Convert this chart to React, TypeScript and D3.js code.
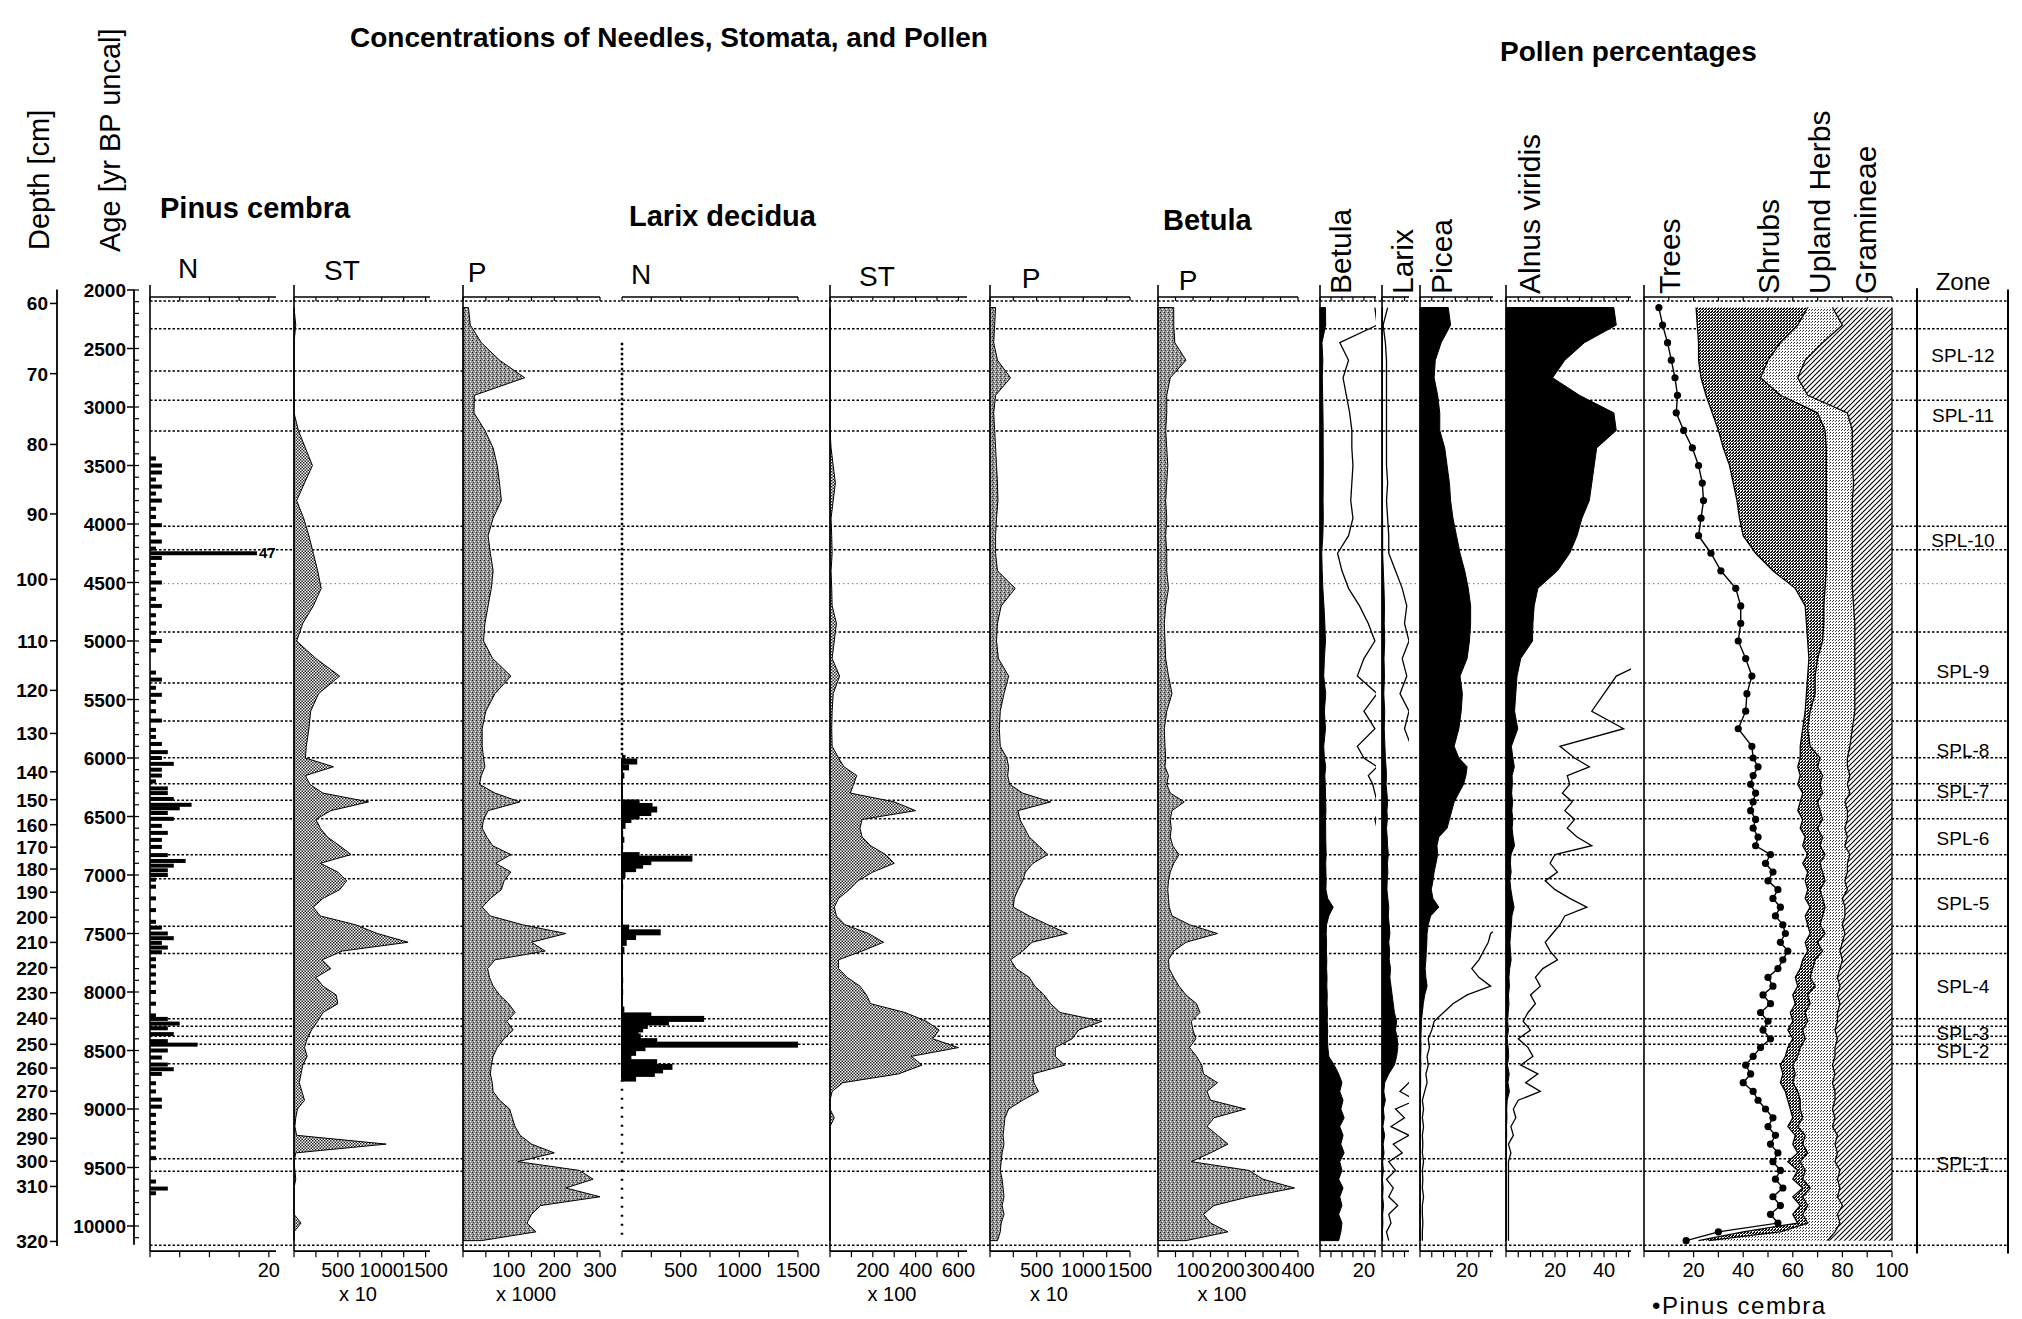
import * as d3 from 'd3'

// ages (yr BP uncal) of the samples shared by all curves
const sampleAges = [2150, 2300, 2450, 2600, 2750, 2900, 3050, 3200, 3350, 3500, 3650, 3800, 3950, 4100, 4250, 4400, 4550, 4700, 4850, 5000, 5150, 5300, 5450, 5600, 5750, 5900,
  6000, 6075, 6150, 6225, 6300, 6375, 6450, 6525, 6600, 6675, 6750, 6825, 6900, 6975, 7050, 7125, 7200, 7275, 7350, 7425, 7500, 7575, 7650, 7725, 7800, 7875, 7950, 8025, 8100, 8175, 8250, 8325, 8400, 8475, 8550, 8625, 8700, 8775, 8850, 8925, 9000, 9075, 9150, 9225, 9300, 9375, 9450, 9525, 9600, 9675, 9750, 9825, 9900, 9975, 10050, 10125]

// concentrations
const pinusStomata = [0, 20, 0, 0, 0, 0, 0, 50, 130, 210, 120, 30, 110, 170, 220, 270, 310, 220, 100, 30, 250, 520, 280, 190, 170, 140,
  130, 450, 130, 180, 330, 850, 420, 250, 300, 380, 520, 650, 300, 500, 600, 520, 330, 220, 300, 700, 950, 1300, 550, 320, 420, 250, 330, 480, 500, 330, 270, 200, 150, 120, 150, 100, 80, 60, 90, 120, 40, 20, 10, 30, 1050, 20, 0, 10, 20, 0, 0, 0, 0, 80, 0, 0]
const pinusPollen = [12, 16, 40, 80, 135, 25, 24, 48, 66, 75, 80, 84, 66, 55, 60, 66, 62, 55, 48, 45, 65, 105, 70, 50, 42, 42,
  45, 48, 40, 36, 70, 125, 55, 45, 42, 52, 65, 105, 72, 105, 90, 84, 60, 42, 60, 130, 225, 150, 180, 70, 54, 58, 66, 80, 100, 114, 96, 110, 90, 75, 66, 62, 60, 64, 66, 80, 102, 108, 114, 125, 150, 200, 120, 255, 285, 225, 300, 170, 150, 140, 160, 40]
const larixStomata = [0, 0, 0, 0, 0, 0, 0, 0, 5, 15, 25, 15, 5, 8, 10, 5, 8, 10, 30, 20, 10, 45, 15, 10, 8, 10,
  40, 65, 125, 110, 95, 300, 400, 150, 140, 150, 190, 260, 300, 200, 130, 90, 40, 20, 30, 70, 180, 250, 150, 40, 40, 80, 140, 170, 190, 350, 450, 510, 480, 600, 380, 430, 320, 60, 10, 0, 0, 20, 0, 0, 0, 0, 0, 0, 0, 0, 0, 0, 0, 0, 0, 0]
const larixPollen = [60, 50, 40, 80, 220, 60, 40, 50, 60, 70, 80, 85, 70, 60, 60, 80, 270, 120, 80, 70, 90, 200, 150, 110, 100, 110,
  180, 200, 190, 210, 350, 650, 300, 320, 370, 420, 520, 620, 460, 380, 350, 300, 260, 250, 420, 620, 830, 450, 350, 220, 280, 420, 480, 580, 650, 750, 1200, 950, 880, 700, 700, 800, 460, 470, 520, 350, 200, 160, 150, 140, 150, 130, 120, 110, 130, 140, 150, 130, 150, 120, 110, 80]
const betulaPollen = [45, 45, 48, 80, 35, 25, 25, 22, 25, 28, 25, 22, 25, 22, 25, 25, 30, 22, 18, 20, 22, 30, 40, 25, 18, 20,
  22, 20, 30, 25, 35, 75, 40, 35, 38, 35, 42, 60, 45, 35, 30, 28, 30, 32, 40, 90, 170, 80, 45, 30, 32, 45, 60, 80, 110, 120, 95, 100, 108, 90, 110, 125, 130, 170, 140, 150, 250, 160, 140, 170, 200, 150, 95, 260, 300, 390, 260, 160, 130, 150, 200, 80]

// pollen percentages
const betulaPct = [2.5, 2.6, 0.9, 1.3, 1.05, 1.2, 1.35, 1.45, 1.45, 1.5, 1.45, 1.4, 1.5, 1.3, 0.8, 1.0, 1.3, 1.8, 2.2, 2.5, 2.0, 1.7, 2.6, 2.0, 2.5, 1.7,
  2.0, 2.6, 2.2, 2.4, 2.5, 2.6, 2.7, 2.5, 2.6, 2.6, 2.7, 2.8, 2.6, 2.7, 2.8, 2.7, 3.5, 6.0, 4.0, 3.0, 2.8, 3.0, 2.9, 3.1, 3.0, 3.2, 3.1, 3.3, 3.2, 3.4, 3.3, 3.5, 3.4, 3.6, 4.0, 6.5, 8.5, 10, 9, 10.5, 9.5, 11, 9, 10.5, 9.5, 11, 9, 10, 8.5, 10.5, 9, 10, 8.5, 10, 9.5, 8.5]
const larixPct = [0.25, 0.05, 0.15, 0.2, 0.2, 0.2, 0.2, 0.2, 0.2, 0.2, 0.25, 0.2, 0.25, 0.3, 0.3, 0.6, 0.9, 1.1, 1.0, 1.2, 0.9, 1.1, 0.8, 1.2, 1.0, 1.3,
  1.5, 1.8, 2.0, 1.8, 2.2, 2.5, 2.2, 2.4, 2.0, 2.3, 2.5, 2.8, 2.4, 2.6, 2.3, 2.2, 2.6, 3.0, 2.8, 3.2, 3.5, 3.0, 3.4, 3.2, 3.8, 3.5, 4.0, 4.5, 5.0, 5.5, 6.5, 6.0, 6.8, 7.0, 6.5, 5.5, 3.0, 1.2, 0.8, 1.5, 0.6, 1.0, 0.4, 1.2, 0.5, 0.9, 0.3, 0.6, 0.2, 0.5, 0.3, 0.7, 0.3, 0.4, 0.2, 0.3]
const piceaPct = [12, 13, 9, 6.5, 6, 7.5, 8.4, 8.4, 10.5, 11.5, 12.5, 13, 14, 15.5, 17, 19, 20.5, 21.5, 21.5, 21, 20, 17, 18, 17.5, 16.5, 14.5,
  16.5, 20, 19.5, 18.5, 16.5, 14.5, 13.5, 12.5, 11.5, 8, 7.2, 7.5, 6.8, 6, 5.5, 4.8, 5.5, 8, 4.5, 3.5, 3.0, 2.9, 2.7, 2.5, 2.2, 2.5, 3.0, 2.0, 1.4, 1.0, 0.6, 0.5, 0.35, 0.4, 0.3, 0.35, 0.25, 0.3, 0.2, 0.1, 0.15, 0.1, 0.15, 0.1, 0.12, 0.1, 0.15, 0.1, 0.12, 0.1, 0.15, 0.1, 0.1, 0.12, 0.1, 0.1]
const alnusPct = [44, 45, 32, 24, 19, 30, 44, 45, 37, 36, 35, 34, 31, 29, 26, 21, 13, 11.5, 11, 10.8, 6, 4.5, 4.0, 3.5, 4.8, 2.2,
  2.8, 3.4, 2.5, 2.6, 2.3, 2.7, 2.4, 2.8, 2.5, 2.9, 3.5, 2.0, 1.8, 2.1, 1.6, 2.0, 2.6, 3.3, 2.4, 2.2, 1.9, 1.6, 1.8, 2.1, 1.5, 1.2, 1.4, 1.0, 1.2, 0.9, 0.7, 1.0, 0.5, 0.9, 1.1, 0.6, 1.3, 0.8, 1.4, 0.5, 0.3, 0.4, 0.2, 0.3, 0.1, 0.2, 0.1, 0.1, 0.1, 0.1, 0.1, 0.1, 0.1, 0.1, 0.1, 0.1]

// summary diagram (gramineae fills the rest up to 100 %)
const pinusCembraPct = [6, 7.5, 9.5, 11, 12.5, 13.5, 13, 16, 19.5, 22, 23.5, 24, 23, 22, 27, 31, 37, 39, 39, 38, 41, 43.5, 41.5, 41, 38, 43.5,
  44, 46, 44, 43, 45, 44, 43, 45, 44, 46, 45, 51, 49, 52, 50, 54, 52, 55, 53, 56, 57, 55, 58, 56, 54, 50, 52, 48, 51, 47, 50, 48, 51, 47, 44, 41, 43, 40, 44, 46, 49, 52, 50, 53, 51, 54, 52, 55, 53, 56, 52, 55, 51, 54, 30, 17]
const treesPct = [21, 21.5, 22, 22, 23, 25, 27.5, 30, 32, 34.5, 36, 37.5, 38.5, 40, 45, 52, 61, 65, 65.5, 66, 66.5, 66, 65.5, 65, 64, 63,
  63, 62, 63, 62, 64, 63, 62, 64, 63, 65, 64, 66, 64, 66, 65, 66, 65, 67, 65, 66, 67, 65, 66, 64, 63, 61, 62, 60, 61, 59, 60, 58, 60, 58, 57, 55, 56, 55, 57, 58, 59, 60, 58, 61, 60, 62, 58, 62, 60, 64, 60, 63, 60, 62, 40, 22]
const shrubsPct = [45, 40.5, 33, 28, 24, 30, 42.5, 43, 41.5, 39, 37.5, 36, 35, 33.5, 28.5, 21.5, 12, 7.5, 7, 6, 3.5, 3, 3.5, 2, 2, 4,
  8, 8, 9, 9, 8, 7, 9, 8, 7, 7, 7, 7, 7, 6, 8, 5, 7, 6, 7, 5, 6, 5, 6, 5, 5, 6, 7, 6, 6, 6, 6, 6, 5, 5, 5, 5, 5, 5, 5, 5, 4, 4, 4, 4, 4, 4, 5, 3, 4, 3, 4, 3, 4, 4, 15, 4]
const herbsPct = [10, 18, 17, 15, 15, 11, 12, 11, 10.5, 10.5, 11, 10.5, 10.5, 10.5, 10.5, 10.5, 11, 12, 12.5, 13, 15, 16, 16, 18, 18, 16,
  11, 12, 11, 11, 11, 11, 11, 10, 11, 10, 10, 10, 11, 10, 8, 11, 8, 8, 9, 9, 8, 10, 7, 11, 11, 11, 10, 12, 12, 13, 12, 13, 13, 14, 15, 16, 16, 16, 15, 14, 13, 13, 14, 13, 13, 12, 14, 14, 14, 12, 14, 14, 14, 13, 22, 48]

// needle counts
const pinusNeedleAges = [3440, 3500, 3560, 3620, 3680, 3740, 3800, 3870, 3940, 4010, 4080, 4150, 4210, 4250, 4290, 4350, 4420, 4500, 4560, 4640,
  4700, 4780, 4850, 4930, 5000, 5080, 5270, 5330, 5400, 5460, 5520, 5600, 5680, 5760, 5820, 5880, 5950, 6000, 6050, 6100,
  6150, 6200, 6260, 6300, 6350, 6400, 6430, 6470, 6520, 6580, 6640, 6700, 6760, 6830, 6880, 6920, 6960, 7000, 7040, 7100,
  7200, 7300, 7400, 7450, 7500, 7540, 7580, 7620, 7660, 7720, 7780, 7850, 7920, 8000, 8100, 8200, 8230, 8270, 8310, 8360,
  8420, 8450, 8500, 8560, 8620, 8660, 8700, 8780, 8850, 8920, 8980, 9050, 9120, 9200, 9260, 9330, 9420, 9620, 9680, 9720]
const pinusNeedles = [1, 2, 2, 1, 2, 1, 2, 1, 1, 2, 1, 2, 1, 47, 2, 1, 1, 2, 1, 1,
  2, 1, 1, 1, 2, 1, 1, 2, 1, 2, 1, 1, 2, 1, 1, 2, 3, 2, 4, 2,
  2, 1, 3, 3, 4, 7, 5, 3, 4, 2, 3, 2, 2, 3, 6, 4, 3, 3, 1, 1,
  1, 1, 1, 2, 3, 4, 2, 3, 2, 1, 1, 1, 1, 1, 1, 1, 3, 5, 3, 4,
  3, 8, 3, 2, 3, 4, 2, 1, 1, 2, 2, 1, 1, 1, 1, 1, 1, 1, 3, 1]
const larixNeedleAges = [6000, 6030, 6080, 6150, 6380, 6410, 6440, 6470, 6500, 6530, 6580, 6650, 6700, 6760, 6830, 6860, 6890, 6920, 6950, 7000,
  7100, 7450, 7490, 7530, 7580, 7640, 7900, 8000, 8150, 8200, 8230, 8260, 8290, 8320, 8350, 8380, 8420, 8450, 8480, 8520,
  8560, 8600, 8640, 8670, 8700, 8740]
const larixNeedles = [30, 130, 60, 20, 150, 260, 300, 250, 150, 80, 30, 10, 20, 10, 150, 600, 250, 180, 120, 30,
  10, 60, 330, 120, 40, 20, 10, 10, 20, 250, 700, 400, 220, 180, 140, 160, 300, 1500, 200, 120,
  80, 300, 430, 350, 280, 120]

// zones
const zoneLineAges = [2094, 2331, 2692, 2943, 3205, 4020, 4220, 4510, 4923, 5359, 5684, 5997, 6220, 6362, 6519, 6826, 7032, 7438, 7672, 8228, 8293, 8379, 8447, 8613, 9425, 9532, 10165]
const faintZoneLine = 4510
const zoneNames = ['SPL-12', 'SPL-11', 'SPL-10', 'SPL-9', 'SPL-8', 'SPL-7', 'SPL-6', 'SPL-5', 'SPL-4', 'SPL-3', 'SPL-2', 'SPL-1']
const zoneLabelAges = [2556, 3068, 4137, 5256, 5932, 6282, 6684, 7239, 7949, 8350, 8504, 9462]

// left axes
const depthLabels = [60, 70, 80, 90, 100, 110, 120, 130, 140, 150, 160, 170, 180, 190, 200, 210, 220, 230, 240, 250, 260, 270, 280, 290, 300, 310, 320]
const depthAges = [2115, 2715, 3320, 3914, 4473, 4998, 5422, 5790, 6118, 6356, 6570, 6762, 6949, 7147, 7362, 7576, 7791, 8006, 8226, 8447, 8650, 8848, 9040, 9250, 9447, 9662, 10132]
const ageLabels = [2000, 2500, 3000, 3500, 4000, 4500, 5000, 5500, 6000, 6500, 7000, 7500, 8000, 8500, 9000, 9500, 10000]

const FONT = "'Liberation Sans', Arial, Helvetica, sans-serif"
const W = 2022
const H = 1319

const y = d3.scaleLinear().domain([2000, 10000]).range([290, 1226])
const yTop = y(2060)
const yBot = y(10215)

type Panel = { id: string; x0: number; w: number; max: number; step: number; labels: number[]; mult?: string; multX?: number }

const panels: Record<string, Panel> = {
  pinN: { id: 'pinN', x0: 150, w: 126, max: 21.2, step: 5, labels: [20] },
  pinST: { id: 'pinST', x0: 294, w: 136, max: 1550, step: 250, labels: [500, 1000, 1500], mult: 'x 10', multX: 358 },
  pinP: { id: 'pinP', x0: 463, w: 137, max: 300, step: 50, labels: [100, 200, 300], mult: 'x 1000', multX: 526 },
  larN: { id: 'larN', x0: 622, w: 176, max: 1500, step: 250, labels: [500, 1000, 1500] },
  larST: { id: 'larST', x0: 830, w: 137, max: 640, step: 100, labels: [200, 400, 600], mult: 'x 100', multX: 892 },
  larP: { id: 'larP', x0: 990, w: 140, max: 1500, step: 250, labels: [500, 1000, 1500], mult: 'x 10', multX: 1049 },
  betP: { id: 'betP', x0: 1158, w: 140, max: 400, step: 50, labels: [100, 200, 300, 400], mult: 'x 100', multX: 1222 },
  betPct: { id: 'betPct', x0: 1320, w: 56, max: 25.5, step: 5, labels: [20] },
  larPct: { id: 'larPct', x0: 1382, w: 27, max: 12, step: 5, labels: [] },
  picPct: { id: 'picPct', x0: 1420, w: 73, max: 31, step: 5, labels: [20] },
  alnPct: { id: 'alnPct', x0: 1506, w: 125, max: 51, step: 5, labels: [20, 40] },
  sum: { id: 'sum', x0: 1644, w: 248, max: 100, step: 10, labels: [20, 40, 60, 80, 100] },
}

const xScale = (p: Panel) => d3.scaleLinear().domain([0, p.max]).range([p.x0, p.x0 + p.w])

const areaPath = (p: Panel, vals: number[]) => {
  const xs = xScale(p)
  return d3.area<number>().y((_, i) => y(sampleAges[i])).x0(p.x0).x1((v) => xs(Math.min(v, p.max)))(vals) || ''
}
const exagPath = (p: Panel, vals: number[]) => {
  const xs = xScale(p)
  return d3.line<number>().y((_, i) => y(sampleAges[i])).x((v) => xs(v * 10))(vals) || ''
}

const PanelAxis = ({ p, dottedAxis }: { p: Panel; dottedAxis?: boolean }) => {
  const xs = xScale(p)
  const ticks = d3.range(0, p.max + 1e-6, p.step)
  return (
    <g stroke="#000" fill="none">
      {!dottedAxis && <line x1={p.x0} x2={p.x0} y1={yTop - 12} y2={yBot} strokeWidth={1.6} />}
      <line x1={p.x0} x2={p.x0 + p.w} y1={yTop} y2={yTop} strokeWidth={1.6} />
      {ticks.map((t) => (
        <line key={'t' + t} x1={xs(t)} x2={xs(t)} y1={yTop} y2={yTop + 4} strokeWidth={1.2} />
      ))}
      <line x1={p.x0} x2={p.x0 + p.w} y1={yBot} y2={yBot} strokeWidth={1.6} />
      {ticks.map((t) => (
        <line key={'b' + t} x1={xs(t)} x2={xs(t)} y1={yBot} y2={yBot + 6} strokeWidth={1.2} />
      ))}
      {p.labels.map((l) => (
        <text key={'l' + l} x={xs(l)} y={yBot + 26} textAnchor="middle" fontSize={20} fill="#000" stroke="none" fontFamily={FONT}>
          {l}
        </text>
      ))}
      {p.mult && (
        <text x={p.multX} y={yBot + 50} textAnchor="middle" fontSize={20} fill="#000" stroke="none" fontFamily={FONT}>
          {p.mult}
        </text>
      )}
    </g>
  )
}

const App = () => {
  const sumX = xScale(panels.sum)
  const cumTrees = treesPct
  const cumShrubs = treesPct.map((t, i) => t + shrubsPct[i])
  const cumHerbs = cumShrubs.map((c, i) => c + herbsPct[i])
  const band = (lo: number[], hi: number[]) =>
    d3.area<number>().y((_, i) => y(sampleAges[i])).x0((_, i) => sumX(lo[i])).x1((_, i) => sumX(hi[i]))(sampleAges) || ''
  const edge = (vals: number[]) => d3.line<number>().y((_, i) => y(sampleAges[i])).x((v) => sumX(v))(vals) || ''
  const full = sampleAges.map(() => 100)

  const pinN = panels.pinN
  const pinNx = xScale(pinN)
  const larN = panels.larN
  const larNx = xScale(larN)

  const rotLabels: [string, number][] = [
    ['Betula', 1351], ['Larix', 1413], ['Picea', 1452], ['Alnus viridis', 1540],
    ['Trees', 1680], ['Shrubs', 1779], ['Upland Herbs', 1830], ['Gramineae', 1876],
  ]
  const colHeads: [string, number, number][] = [
    ['N', 188, 278], ['ST', 342, 280], ['P', 477, 282], ['N', 641, 284], ['ST', 877, 286], ['P', 1031, 288], ['P', 1188, 290],
  ]

  return (
    <svg width={W} height={H} style={{ position: 'absolute', left: 0, top: 0, background: '#fff' }} fontFamily={FONT}>
      <defs>
        <pattern id="stom" width="3" height="3" patternUnits="userSpaceOnUse">
          <rect width="3" height="3" fill="#fff" />
          <rect x="0" y="0" width="1.5" height="1.5" fill="#222" />
          <rect x="1.5" y="1.5" width="1.5" height="1.5" fill="#222" />
        </pattern>
        <pattern id="poll" width="4" height="4" patternUnits="userSpaceOnUse">
          <rect width="4" height="4" fill="#959595" />
          <rect x="0" y="0" width="1" height="1" fill="#222" />
          <rect x="2" y="1" width="1" height="1" fill="#f4f4f4" />
          <rect x="1" y="2" width="1" height="1" fill="#333" />
          <rect x="3" y="3" width="1" height="1" fill="#e8e8e8" />
        </pattern>
        <pattern id="shrub" width="3" height="3" patternUnits="userSpaceOnUse">
          <rect width="3" height="3" fill="#fff" />
          <rect x="0" y="0" width="2" height="1" fill="#111" />
          <rect x="1" y="2" width="2" height="1" fill="#111" />
          <rect x="2" y="1" width="1" height="1" fill="#111" />
        </pattern>
        <pattern id="herb" width="3" height="3" patternUnits="userSpaceOnUse">
          <rect width="3" height="3" fill="#fff" />
          <rect x="0" y="0" width="1" height="1" fill="#222" />
          <rect x="2" y="1" width="1" height="1" fill="#555" />
        </pattern>
        <pattern id="gram" width="5" height="5" patternUnits="userSpaceOnUse">
          <rect width="5" height="5" fill="#fff" />
          <path d="M0,5 L5,0 M-1,1 L1,-1 M4,6 L6,4" stroke="#000" strokeWidth="1.1" />
        </pattern>
        {Object.values(panels).map((p) => (
          <clipPath key={p.id} id={'clip-' + p.id}>
            <rect x={p.x0} y={0} width={p.w} height={H} />
          </clipPath>
        ))}
      </defs>
      <rect width={W} height={H} fill="#fff" />

      {/* titles */}
      <text x={350} y={47} fontSize={28} fontWeight="bold">Concentrations of Needles, Stomata, and Pollen</text>
      <text x={1500} y={61} fontSize={28} fontWeight="bold">Pollen percentages</text>
      <text x={160} y={218} fontSize={29} fontWeight="bold">Pinus cembra</text>
      <text x={629} y={226} fontSize={29} fontWeight="bold">Larix decidua</text>
      <text x={1163} y={230} fontSize={29} fontWeight="bold">Betula</text>
      <text transform="translate(49,250) rotate(-90)" fontSize={29}>Depth [cm]</text>
      <text transform="translate(120,252) rotate(-90)" fontSize={29}>Age [yr BP uncal]</text>
      {colHeads.map(([t, x, yy], i) => (
        <text key={i} x={x} y={yy} fontSize={28} textAnchor="middle">{t}</text>
      ))}
      {rotLabels.map(([t, x]) => (
        <text key={t} transform={`translate(${x},294) rotate(-90)`} fontSize={30}>{t}</text>
      ))}
      <text x={1963} y={290} fontSize={24} textAnchor="middle">Zone</text>

      {/* zone lines */}
      {zoneLineAges.map((a) => (
        <line key={a} x1={150} x2={2008} y1={y(a)} y2={y(a)}
          stroke={a === faintZoneLine ? '#777' : '#000'} strokeWidth={a === faintZoneLine ? 1 : 1.5}
          strokeDasharray={a === faintZoneLine ? '1.5,3' : '2.5,2'} />
      ))}

      {/* depth axis */}
      <g stroke="#000">
        <line x1={57} x2={57} y1={y(1995)} y2={y(10170)} strokeWidth={1.8} />
        {depthAges.map((a) => (
          <line key={a} x1={50} x2={57} y1={y(a)} y2={y(a)} strokeWidth={1.5} />
        ))}
      </g>
      {depthLabels.map((d, i) => (
        <text key={d} x={48} y={y(depthAges[i]) + 7} fontSize={19} fontWeight="bold" textAnchor="end">{d}</text>
      ))}

      {/* age axis */}
      <g stroke="#000">
        <line x1={134} x2={134} y1={y(1995)} y2={y(10160)} strokeWidth={1.8} />
        {d3.range(2000, 10101, 100).map((a) => (
          <line key={a} x1={134} x2={139} y1={y(a)} y2={y(a)} strokeWidth={1.2} />
        ))}
        {ageLabels.map((a) => (
          <line key={'m' + a} x1={127} x2={134} y1={y(a)} y2={y(a)} strokeWidth={1.5} />
        ))}
      </g>
      {ageLabels.map((a) => (
        <text key={a} x={126} y={y(a) + 7} fontSize={19} fontWeight="bold" textAnchor="end">{a}</text>
      ))}

      {/* Pinus needles */}
      {pinusNeedleAges.map((a, i) => {
        const c = Math.min(pinusNeedles[i], 18)
        return <rect key={a} x={pinN.x0} y={y(a) - 2} width={pinNx(c) - pinN.x0} height={4} fill="#000" />
      })}
      {pinusNeedleAges.map((a, i) =>
        pinusNeedles[i] > pinN.max ? (
          <text key={'lab' + a} x={pinNx(18) + 2} y={y(a) + 5} fontSize={15} fontWeight="bold">{pinusNeedles[i]}</text>
        ) : null
      )}
      <PanelAxis p={pinN} />

      {/* Pinus stomata & pollen */}
      <path d={areaPath(panels.pinST, pinusStomata)} fill="url(#stom)" stroke="#000" strokeWidth={1} />
      <PanelAxis p={panels.pinST} />
      <path d={areaPath(panels.pinP, pinusPollen)} fill="url(#poll)" stroke="#000" strokeWidth={1} />
      <PanelAxis p={panels.pinP} />

      {/* Larix needles */}
      {larixNeedleAges.map((a, i) => (
        <rect key={a} x={larN.x0} y={y(a) - 3} width={larNx(larixNeedles[i]) - larN.x0} height={6} fill="#000" />
      ))}
      <g stroke="#000">
        <line x1={larN.x0} x2={larN.x0} y1={y(2450)} y2={y(6000)} strokeWidth={2.5} strokeDasharray="2.5,2.5" />
        <line x1={larN.x0} x2={larN.x0} y1={y(6000)} y2={y(8750)} strokeWidth={2} />
        <line x1={larN.x0} x2={larN.x0} y1={y(8750)} y2={y(10100)} strokeWidth={2.5} strokeDasharray="2,7" />
      </g>
      <PanelAxis p={larN} dottedAxis />

      <path d={areaPath(panels.larST, larixStomata)} fill="url(#stom)" stroke="#000" strokeWidth={1} />
      <PanelAxis p={panels.larST} />
      <path d={areaPath(panels.larP, larixPollen)} fill="url(#poll)" stroke="#000" strokeWidth={1} />
      <PanelAxis p={panels.larP} />
      <path d={areaPath(panels.betP, betulaPollen)} fill="url(#poll)" stroke="#000" strokeWidth={1} />
      <PanelAxis p={panels.betP} />

      {/* percentage curves with x10 exaggeration */}
      {([
        [panels.betPct, betulaPct],
        [panels.larPct, larixPct],
        [panels.picPct, piceaPct],
        [panels.alnPct, alnusPct],
      ] as [Panel, number[]][]).map(([p, vals]) => (
        <g key={p.id}>
          <path d={exagPath(p, vals)} fill="none" stroke="#000" strokeWidth={1.3} clipPath={`url(#clip-${p.id})`} />
          <path d={areaPath(p, vals)} fill="#000" stroke="#000" strokeWidth={1} />
          <PanelAxis p={p} />
        </g>
      ))}

      {/* summary diagram */}
      <path d={band(cumTrees, cumShrubs)} fill="url(#shrub)" stroke="none" />
      <path d={band(cumShrubs, cumHerbs)} fill="url(#herb)" stroke="none" />
      <path d={band(cumHerbs, full)} fill="url(#gram)" stroke="none" />
      <path d={edge(cumTrees)} fill="none" stroke="#000" strokeWidth={1.3} />
      <path d={edge(cumShrubs)} fill="none" stroke="#000" strokeWidth={1.3} />
      <path d={edge(cumHerbs)} fill="none" stroke="#000" strokeWidth={1.3} />
      <path d={edge(full)} fill="none" stroke="#000" strokeWidth={1.3} />
      <path d={edge(pinusCembraPct)} fill="none" stroke="#000" strokeWidth={1.4} />
      {pinusCembraPct.map((v, i) => (
        <circle key={i} cx={sumX(v)} cy={y(sampleAges[i])} r={3.6} fill="#000" />
      ))}
      <PanelAxis p={panels.sum} />
      <text x={1652} y={1314} fontSize={24} letterSpacing={1.5}>•Pinus cembra</text>

      {/* zone column */}
      <g stroke="#000" strokeWidth={2}>
        <line x1={1917} x2={1917} y1={y(1985)} y2={y(10235)} />
        <line x1={2008} x2={2008} y1={y(1995)} y2={y(10235)} />
      </g>
      {zoneNames.map((z, i) => (
        <text key={z} x={1963} y={y(zoneLabelAges[i]) + 7} fontSize={19} textAnchor="middle">{z}</text>
      ))}
    </svg>
  )
}

export default App
